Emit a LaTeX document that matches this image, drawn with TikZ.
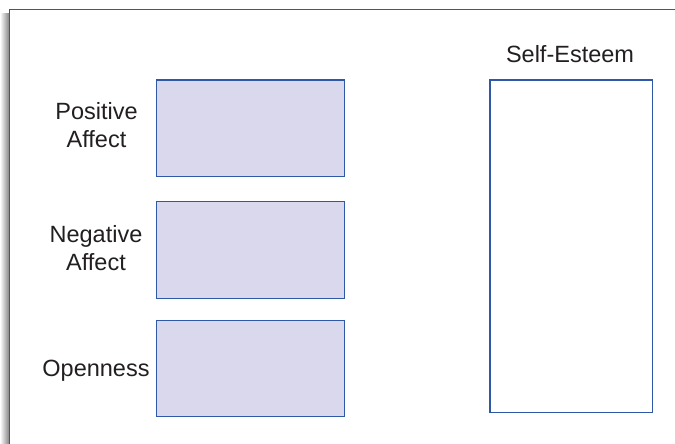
\documentclass[tikz,border=0pt]{standalone}
\usepackage{fontspec}
\setmainfont{Liberation Sans}
\definecolor{boxfill}{HTML}{D9D8EC}
\definecolor{boxline}{HTML}{2F58A6}
\definecolor{txt}{HTML}{231F20}
\begin{document}
\begin{tikzpicture}[x=1pt,y=-1pt,
  lab/.style={font=\fontsize{23.5}{28.5}\selectfont, text=txt, align=center, inner sep=0pt},
  facbox/.style={draw=boxline, fill=boxfill, line width=1.3pt, minimum width=188pt, minimum height=96.5pt, inner sep=0pt, anchor=north west},
  outbox/.style={draw=boxline, fill=white, line width=1.5pt, minimum width=162.5pt, minimum height=332pt, inner sep=0pt, anchor=north west}]
\useasboundingbox (0,0) rectangle (675,444);
\fill[white] (0,0) rectangle (675,444);
% shadow on the left of the frame
\shade[left color=white, right color=black!50] (0,14) rectangle (9.5,444);
\fill[white] (9.5,10) rectangle (675,444);
% outer frame
\draw[boxline, line width=1pt] (9.5,444) -- (9.5,10) -- (675,10);
% boxes
\node[facbox] (pa) at (155.5,79.5) {};
\node[facbox] (na) at (155.5,201) {};
\node[facbox] (op) at (155.5,319.5) {};
\node[outbox] (se) at (489,79.5) {};
% labels
\node[lab] (lpa) at (96.5,125) {Positive\\Affect};
\node[lab] (lna) at (96,248) {Negative\\Affect};
\node[lab, anchor=base] (lop) at (96,376) {Openness};
\node[lab, anchor=base] (lse) at (570,62.3) {Self-Esteem};
\end{tikzpicture}
\end{document}
